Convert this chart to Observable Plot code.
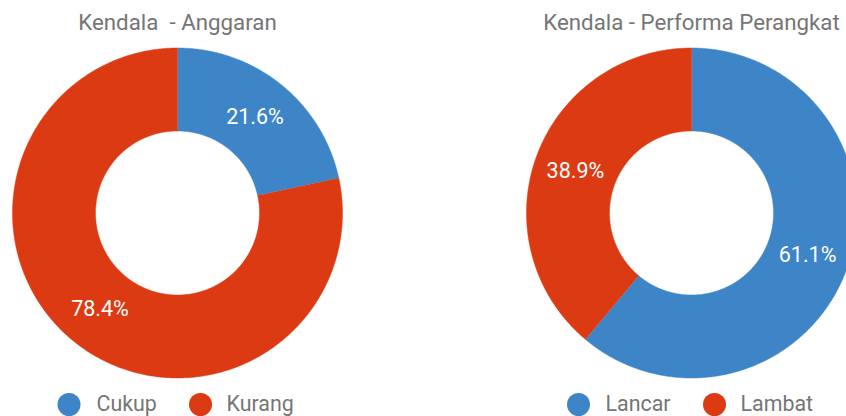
<!DOCTYPE html>
<html>
<head>
<meta charset="utf-8">
<script src="https://cdn.jsdelivr.net/npm/d3@7"></script>
<script src="https://cdn.jsdelivr.net/npm/@observablehq/plot@0.6"></script>
<style>
  html, body { margin: 0; padding: 0; background: #fff; }
  svg { display: block; }
</style>
</head>
<body>
<div id="chart"></div>
<script>
// ---- data ----
const chartTitles = ["Kendala  - Anggaran", "Kendala - Performa Perangkat"];
const anggaranCategories = ["Cukup", "Kurang"];
const anggaranValues = [21.6, 78.4];
const performaCategories = ["Lancar", "Lambat"];
const performaValues = [61.1, 38.9];

// ---- layout (pixels) ----
const W = 846, H = 416;
const OUTER = 165, INNER = 82;
const centersPx = [{x: 177, y: 212.5}, {x: 691, y: 212.5}];
const legendDotOffsets = [[-108.5, 23], [-113, 23]];
const legendTextOffsets = [[-81, 49], [-86, 49]];
const titleYpx = 22, legendYpx = 404;
const BLUE = "#3D85C6", RED = "#DC3A12";

// unit space: 1 unit = OUTER px
const k = OUTER;
const ux = px => (px - centersPx[0].x) / k;
const uy = py => (centersPx[0].y - py) / k;
const rIn = INNER / OUTER;

const charts = [
  {title: chartTitles[0], cats: anggaranCategories, vals: anggaranValues},
  {title: chartTitles[1], cats: performaCategories, vals: performaValues}
];

const polys = [], labels = [], titles = [], legendDots = [], legendTexts = [];
charts.forEach((c, i) => {
  const cx = ux(centersPx[i].x), cy = uy(centersPx[i].y);
  const arcs = d3.pie().sort(null)(c.vals);
  arcs.forEach((a, j) => {
    const key = c.cats[j];
    const n = Math.max(2, Math.ceil((a.endAngle - a.startAngle) / (Math.PI / 360)));
    const pts = [];
    for (let s = 0; s <= n; s++) {
      const t = a.startAngle + (a.endAngle - a.startAngle) * s / n;
      pts.push({key, x: cx + Math.sin(t), y: cy + Math.cos(t)});
    }
    for (let s = n; s >= 0; s--) {
      const t = a.startAngle + (a.endAngle - a.startAngle) * s / n;
      pts.push({key, x: cx + rIn * Math.sin(t), y: cy + rIn * Math.cos(t)});
    }
    polys.push(...pts);
    const m = (a.startAngle + a.endAngle) / 2, rm = (1 + rIn) / 2;
    labels.push({x: cx + rm * Math.sin(m), y: cy + rm * Math.cos(m), text: c.vals[j].toFixed(1) + "%"});
    legendDots.push({key, x: ux(centersPx[i].x + legendDotOffsets[i][j]), y: uy(legendYpx)});
    legendTexts.push({text: key, x: ux(centersPx[i].x + legendTextOffsets[i][j]), y: uy(legendYpx)});
  });
  titles.push({text: c.title, x: cx, y: uy(titleYpx)});
});

const allCats = [...anggaranCategories, ...performaCategories];
const chart = Plot.plot({
  width: W, height: H,
  margin: 0,
  style: {fontFamily: "Roboto, sans-serif", background: "#fff"},
  x: {domain: [ux(0), ux(W)], range: [0, W], axis: null},
  y: {domain: [uy(H), uy(0)], range: [H, 0], axis: null},
  color: {domain: allCats, range: [BLUE, RED, BLUE, RED]},
  marks: [
    Plot.line(polys, {x: "x", y: "y", z: "key", fill: "key", stroke: "key", strokeWidth: 0.5, curve: "linear"}),
    Plot.text(labels, {x: "x", y: "y", text: "text", fill: "white", fontSize: 21.5}),
    Plot.text(titles, {x: "x", y: "y", text: "text", fill: "#757575", fontSize: 22.3}),
    Plot.dot(legendDots, {x: "x", y: "y", fill: "key", r: 11.5}),
    Plot.text(legendTexts, {x: "x", y: "y", text: "text", fill: "#757575", fontSize: 21.4, textAnchor: "start"})
  ]
});
document.getElementById("chart").appendChild(chart);
</script>
</body>
</html>
